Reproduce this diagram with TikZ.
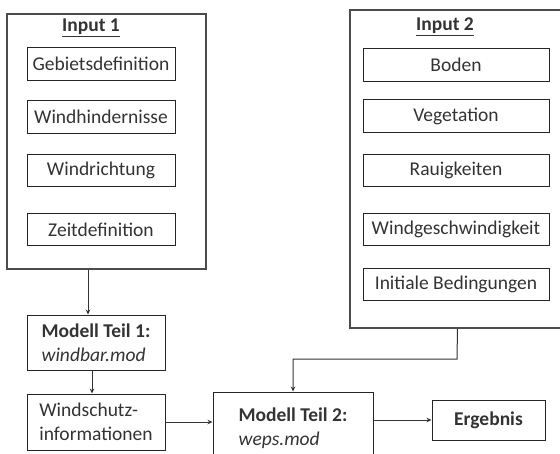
\documentclass[tikz,border=0pt]{standalone}
\usepackage{fontspec}
\setmainfont{Carlito}
\usetikzlibrary{arrows.meta}

\begin{document}
\begin{tikzpicture}[x=1pt,y=-1pt,
  every node/.style={font=\fontsize{19.5}{24}\selectfont,text=black!80},
  frame/.style={draw=black!70,line width=1.1pt,inner sep=0pt},
  item/.style={draw=black!85,line width=1pt,inner sep=0pt,minimum height=32.5pt},
  blk/.style={draw=black!85,line width=1pt,align=left,inner sep=0pt},
  arr/.style={draw=black!80,line width=1pt,-{Stealth[length=5pt,width=4.5pt]}}]
% page 560 x 453
\useasboundingbox (0,0) rectangle (560,453);
% input groups
\node[frame,minimum width=199pt,minimum height=255pt] (in1) at (106.5,141.5) {};
\node[frame,minimum width=215pt,minimum height=318pt] (in2) at (457.5,169) {};
\node (t1) at (91,28) {\underline{\textbf{Input 1}}};
\node (t2) at (445,27) {\underline{\textbf{Input 2}}};
\node[item,minimum width=148pt] (gd) at (101,64) {Gebietsdefinition};
\node[item,minimum width=148pt] (wh) at (101,117) {Windhindernisse};
\node[item,minimum width=148pt] (wr) at (101,170.5) {Windrichtung};
\node[item,minimum width=148pt] (zd) at (101,229.5) {Zeitdefinition};
\node[item,minimum width=186pt] (bo) at (456,65) {Boden};
\node[item,minimum width=186pt] (ve) at (456,116) {Vegetation};
\node[item,minimum width=186pt] (ra) at (456,170.5) {Rauigkeiten};
\node[item,minimum width=186pt] (wg) at (456,229.5) {Windgeschwindigkeit};
\node[item,minimum width=186pt] (ib) at (456,284.5) {Initiale Bedingungen};
% model chain
\node[blk,minimum width=138pt,minimum height=55pt] (m1) at (96,342.5)
  {\textbf{Modell Teil 1:}\\\textit{windbar.mod}};
\node[blk,minimum width=138pt,minimum height=56pt] (ws) at (96,422)
  {Windschutz-\\informationen};
\node[blk,minimum width=160pt,minimum height=72pt] (m2) at (293,428)
  {\textbf{Modell Teil 2:}\\\textit{weps.mod}};
\node[blk,minimum width=113pt,minimum height=40pt,align=center] (erg) at (488.5,420)
  {\textbf{Ergebnis}};
\coordinate (knee) at (457,359);
% connectors
\draw[arr] ([xshift=-8pt]m1.north |- in1.south) -- ([xshift=-8pt]m1.north);
\draw[arr] ([xshift=-4pt]m1.south) -- ([xshift=-4pt]ws.north);
\draw[arr] (ws.east) -- (ws.east -| m2.west);
\draw[arr] (in2.south) -- (knee) -| (m2.north);
\draw[arr] (m2.east |- erg.west) -- (erg.west);
\end{tikzpicture}
\end{document}
